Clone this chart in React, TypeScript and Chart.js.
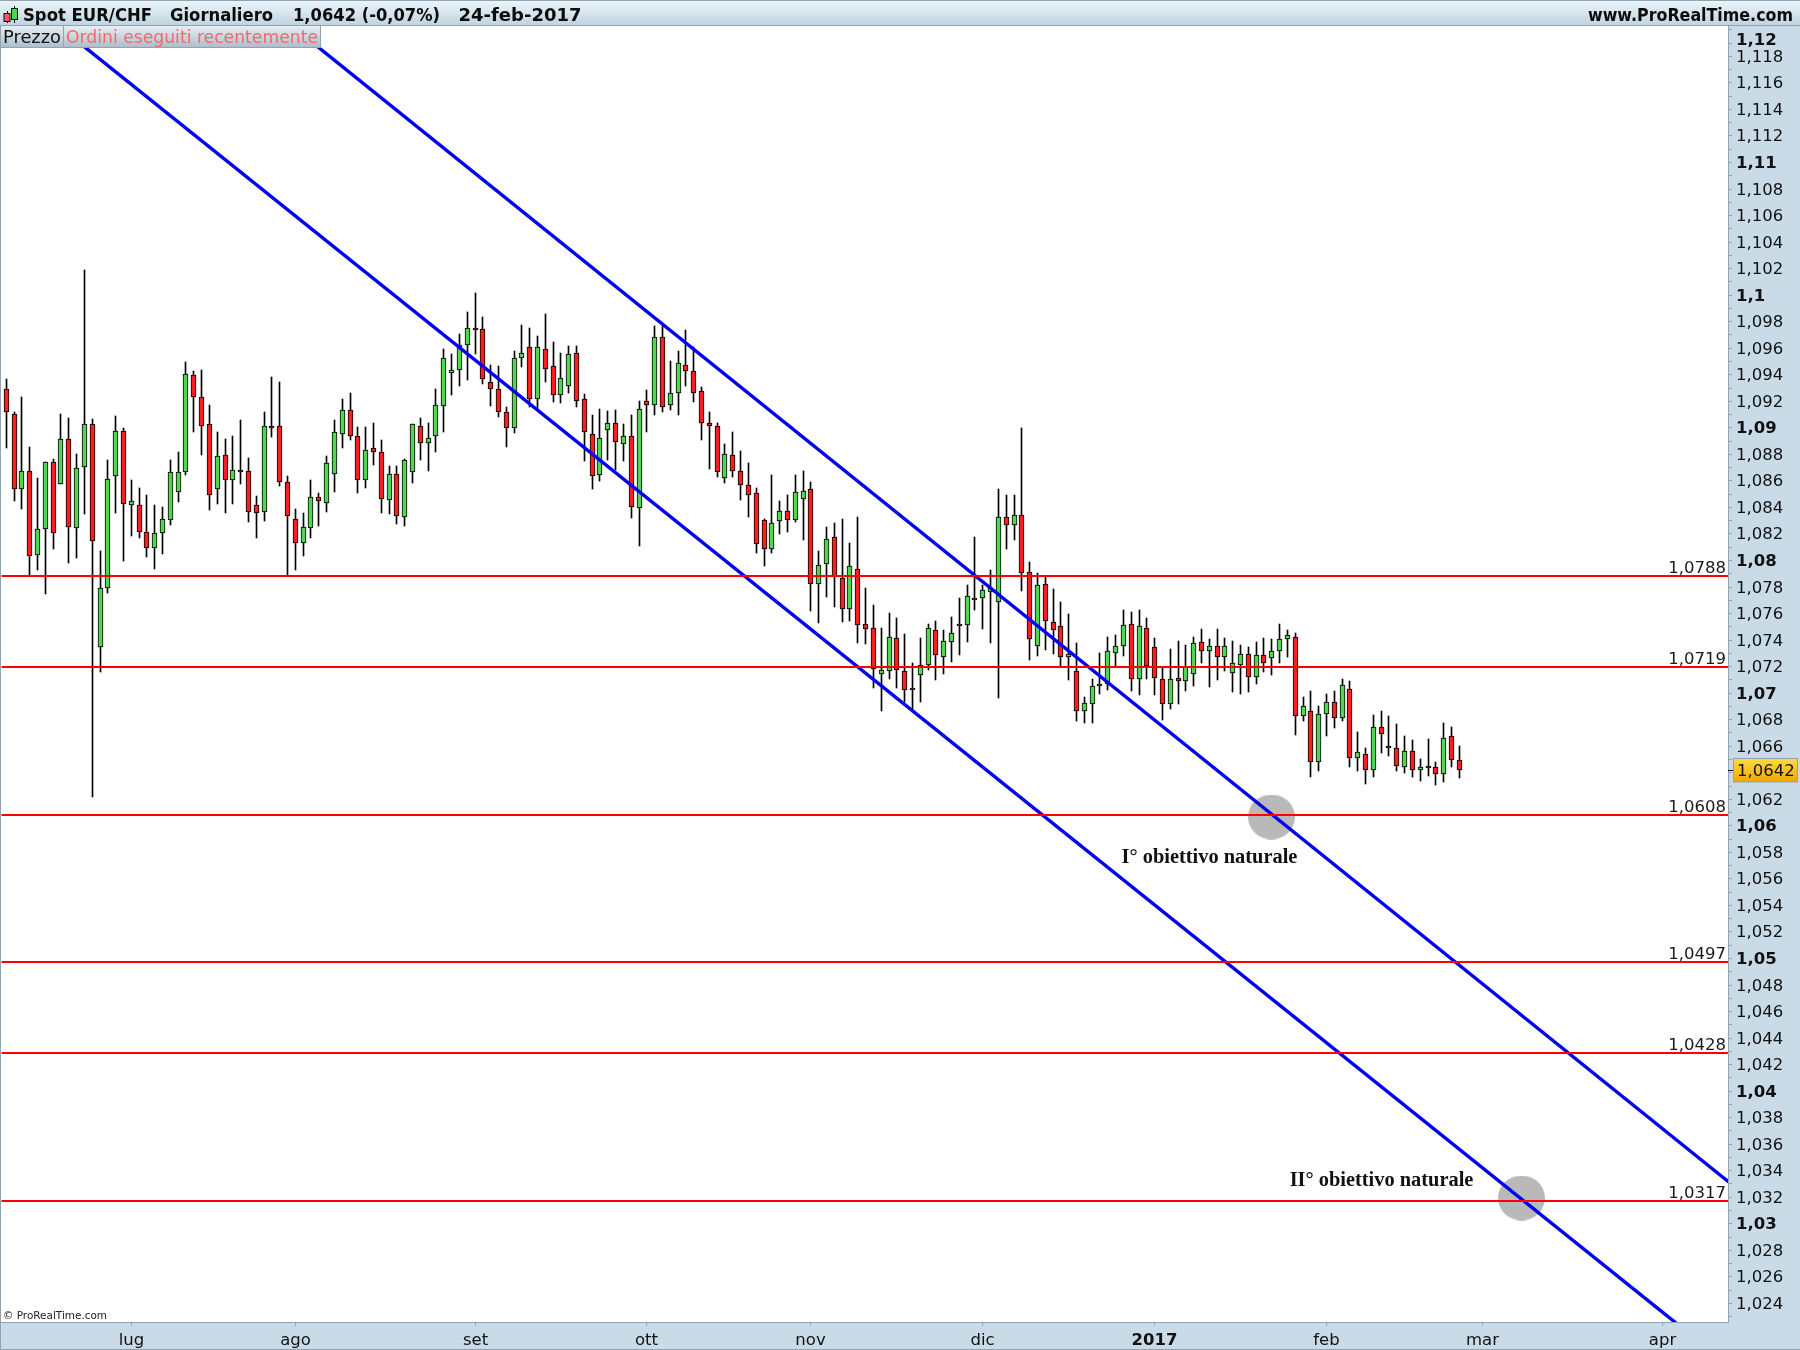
import React, { useEffect, useRef } from "react";
import { Chart, registerables } from "chart.js";

Chart.register(...registerables);

const opens = [
1.09288,1.09098,1.08532,1.08667,1.08035,1.08230,1.08735,1.08569,1.08910,1.08238,
1.08698,1.09024,1.07342,1.07786,1.08630,1.08971,1.08413,1.08413,1.08214,1.08088,
1.08201,1.08299,1.08516,1.08661,1.09391,1.09227,1.09024,1.08532,1.08788,1.08601,
1.08675,1.08667,1.08413,1.08360,1.09008,1.09008,1.08585,1.08307,1.08125,1.08238,
1.08471,1.08427,1.08646,1.08947,1.09128,1.08932,1.08601,1.08842,1.08812,1.08450,
1.08646,1.08322,1.08661,1.09008,1.08880,1.08932,1.09159,1.09407,1.09430,1.09618,
1.09747,1.09739,1.09340,1.09287,1.09113,1.08993,1.09520,1.09603,1.09211,1.09588,
1.09460,1.09242,1.09309,1.09558,1.09211,1.08947,1.08638,1.08978,1.09030,1.08872,
1.08932,1.08390,1.09196,1.09166,1.09678,1.09166,1.09256,1.09467,1.09422,1.09271,
1.09030,1.09007,1.08615,1.08789,1.08668,1.08563,1.08502,1.08299,1.08080,1.08291,
1.08367,1.08299,1.08457,1.08532,1.07816,1.07967,1.08171,1.07861,1.07628,1.07929,
1.07515,1.07485,1.07138,1.07160,1.07409,1.07160,1.07025,1.07130,1.07206,1.07469,
1.07266,1.07379,1.07515,1.07507,1.07711,1.07711,1.07756,1.07680,1.08321,1.08261,
1.08336,1.07907,1.07349,1.07816,1.07530,1.07500,1.07266,1.07160,1.06859,1.06911,
1.07047,1.07062,1.07296,1.07349,1.07515,1.07100,1.07484,1.07341,1.07100,1.06911,
1.07107,1.07085,1.07138,1.07379,1.07311,1.07349,1.07266,1.07145,1.07205,1.07288,
1.07115,1.07281,1.07258,1.07311,1.07401,1.07417,1.06821,1.06859,1.06475,1.06836,
1.06927,1.06806,1.07025,1.06505,1.06535,1.06414,1.06738,1.06588,1.06580,1.06437,
1.06558,1.06414,1.06439,1.06437,1.06384,1.06671,1.06490];

const highs = [
1.09365,1.09116,1.09227,1.08852,1.08619,1.08735,1.08759,1.09100,1.09071,1.08799,
1.10184,1.09063,1.08066,1.08754,1.09084,1.08992,1.08603,1.08542,1.08489,1.08415,
1.08400,1.08754,1.08815,1.09492,1.09423,1.09431,1.09169,1.08965,1.08913,1.08934,
1.09053,1.08770,1.08482,1.09116,1.09378,1.09341,1.08632,1.08384,1.08355,1.08603,
1.08505,1.08782,1.09056,1.09214,1.09259,1.09003,1.09003,1.09033,1.08905,1.08709,
1.08709,1.08759,1.09023,1.09071,1.09033,1.09289,1.09591,1.09553,1.09704,1.09870,
1.10013,1.09832,1.09470,1.09463,1.09154,1.09576,1.09772,1.09749,1.09689,1.09855,
1.09644,1.09561,1.09613,1.09613,1.09249,1.09093,1.09136,1.09123,1.09131,1.09025,
1.09093,1.09199,1.09281,1.09764,1.09764,1.09497,1.09573,1.09734,1.09603,1.09301,
1.09113,1.09030,1.08872,1.08962,1.08819,1.08728,1.08542,1.08306,1.08641,1.08442,
1.08487,1.08641,1.08671,1.08585,1.08065,1.08246,1.08276,1.08306,1.08125,1.08321,
1.07786,1.07658,1.07485,1.07598,1.07560,1.07439,1.07221,1.07409,1.07517,1.07537,
1.07469,1.07567,1.07711,1.07809,1.08170,1.07811,1.07924,1.08532,1.08487,1.08487,
1.08992,1.07982,1.07899,1.07874,1.07778,1.07680,1.07590,1.07371,1.06964,1.07100,
1.07296,1.07417,1.07432,1.07620,1.07605,1.07620,1.07560,1.07409,1.07183,1.07326,
1.07386,1.07356,1.07417,1.07477,1.07401,1.07477,1.07409,1.07386,1.07356,1.07341,
1.07379,1.07409,1.07401,1.07515,1.07469,1.07447,1.06965,1.07010,1.06897,1.06987,
1.07010,1.07100,1.07085,1.06701,1.06580,1.06829,1.06859,1.06821,1.06761,1.06671,
1.06640,1.06497,1.06648,1.06475,1.06769,1.06738,1.06595];

const lows = [
1.08847,1.08447,1.08386,1.07887,1.07926,1.07747,1.08085,1.08569,1.07979,1.08016,
1.08349,1.06216,1.07157,1.07754,1.08357,1.07995,1.08183,1.08167,1.08024,1.07934,
1.08048,1.08267,1.08439,1.08643,1.08968,1.08794,1.08379,1.08423,1.08357,1.08423,
1.08574,1.08289,1.08167,1.08296,1.08928,1.08561,1.07887,1.07926,1.08032,1.08167,
1.08259,1.08364,1.08515,1.08847,1.08907,1.08508,1.08545,1.08719,1.08357,1.08349,
1.08274,1.08259,1.08583,1.08756,1.08674,1.08817,1.08968,1.09247,1.09314,1.09360,
1.09556,1.09329,1.09164,1.09081,1.08855,1.08960,1.09458,1.09156,1.09136,1.09345,
1.09194,1.09186,1.09257,1.09156,1.08749,1.08538,1.08598,1.08754,1.08679,1.08749,
1.08319,1.08108,1.08967,1.09095,1.09118,1.09133,1.09095,1.09314,1.09193,1.08907,
1.08688,1.08628,1.08583,1.08628,1.08455,1.08326,1.08055,1.07957,1.08055,1.08198,
1.08213,1.08289,1.08153,1.07618,1.07527,1.07723,1.07648,1.07535,1.07542,1.07376,
1.07369,1.07037,1.06864,1.07105,1.07037,1.06932,1.06874,1.06932,1.07173,1.07098,
1.07143,1.07233,1.07286,1.07384,1.07625,1.07482,1.07376,1.06962,1.08085,1.08153,
1.07766,1.07248,1.07278,1.07324,1.07293,1.07198,1.07097,1.06788,1.06773,1.06773,
1.06992,1.07022,1.07190,1.07278,1.07014,1.06984,1.07105,1.06984,1.06796,1.06879,
1.06916,1.07014,1.07052,1.07226,1.07045,1.07097,1.07165,1.07007,1.06992,1.07007,
1.07067,1.07158,1.07135,1.07226,1.07266,1.06683,1.06784,1.06366,1.06412,1.06676,
1.06736,1.06789,1.06442,1.06412,1.06314,1.06367,1.06547,1.06525,1.06412,1.06397,
1.06367,1.06336,1.06374,1.06306,1.06329,1.06442,1.06359];

const closes = [
1.09113,1.08532,1.08667,1.08027,1.08236,1.08735,1.08201,1.08910,1.08246,1.08690,
1.09024,1.08140,1.07786,1.08608,1.08971,1.08421,1.08442,1.08214,1.08088,1.08201,
1.08307,1.08661,1.08661,1.09399,1.09227,1.09008,1.08487,1.08780,1.08601,1.08675,
1.08661,1.08360,1.08352,1.09008,1.08992,1.08585,1.08328,1.08125,1.08246,1.08471,
1.08442,1.08729,1.08963,1.09128,1.08935,1.08601,1.08827,1.08812,1.08457,1.08646,
1.08329,1.08752,1.09023,1.08880,1.08917,1.09166,1.09520,1.09430,1.09618,1.09747,
1.09737,1.09362,1.09287,1.09113,1.08993,1.09520,1.09558,1.09211,1.09603,1.09438,
1.09242,1.09370,1.09551,1.09196,1.08963,1.08631,1.08917,1.09030,1.08887,1.08932,
1.08397,1.09136,1.09166,1.09678,1.09151,1.09256,1.09482,1.09422,1.09256,1.09030,
1.09007,1.08661,1.08796,1.08668,1.08563,1.08487,1.08118,1.08080,1.08276,1.08367,
1.08299,1.08510,1.08517,1.07816,1.07959,1.08155,1.07877,1.07628,1.07952,1.07507,
1.07477,1.07175,1.07168,1.07417,1.07168,1.07017,1.07017,1.07206,1.07485,1.07281,
1.07387,1.07447,1.07500,1.07726,1.07696,1.07771,1.07786,1.08321,1.08261,1.08336,
1.07899,1.07401,1.07809,1.07537,1.07469,1.07266,1.07288,1.06859,1.06919,1.07047,
1.07055,1.07311,1.07349,1.07507,1.07100,1.07500,1.07198,1.07107,1.06911,1.07100,
1.07085,1.07190,1.07371,1.07311,1.07349,1.07266,1.07349,1.07221,1.07288,1.07115,
1.07281,1.07221,1.07311,1.07401,1.07432,1.06821,1.06897,1.06475,1.06836,1.06927,
1.06806,1.07055,1.06505,1.06550,1.06414,1.06738,1.06686,1.06580,1.06444,1.06558,
1.06414,1.06437,1.06434,1.06384,1.06655,1.06490,1.06414];

const monthTicks = [16, 37, 60, 82, 103, 125, 147, 169, 189, 212];
const monthLabels = ["lug", "ago", "set", "ott", "nov", "dic", "2017", "feb", "mar", "apr"];

const levels = [1.0788, 1.0719, 1.0608, 1.0497, 1.0428, 1.0317];

const upperChannelX = [35, 221];
const upperChannelY = [1.12099, 1.03288];
const lowerChannelX = [6, 214];
const lowerChannelY = [1.12058, 1.02233];

const targetX = [161.9, 194.0];
const targetY = [1.06062, 1.03192];
const targetNotes = ["I° obiettivo naturale", "II° obiettivo naturale"];
const notePositionX = [154.06, 176.1];
const notePositionY = [1.0575, 1.03321];

const lastPrice = 1.0642;
const titleParts = ["Spot EUR/CHF", "Giornaliero", "1,0642 (-0,07%)", "24-feb-2017"];
const siteName = "www.ProRealTime.com";
const tabs = ["Prezzo", "Ordini eseguiti recentemente"];
const copyright = "© ProRealTime.com";

const xMin = -0.68;
const xMax = 220.4;
const yMin = 1.02256;
const yMax = 1.12025;

const comma = (v: number) => String(v).replace(".", ",");
const SANS = "'DejaVu Sans'";
const PANEL = "#c9dbe6";
const EDGE = "#8fa3b0";
const GREEN = "#52d652";
const RED = "#fa1e1e";

const chrome = {
  id: "chrome",
  beforeDraw(chart: any) {
    const { ctx, width, height, chartArea: a } = chart;
    ctx.save();
    ctx.fillStyle = "#ffffff";
    ctx.fillRect(0, 0, width, height);
    ctx.fillStyle = PANEL;
    ctx.fillRect(a.right, a.top, width - a.right, height - a.top);
    ctx.fillRect(0, a.bottom, width, height - a.bottom);
    ctx.fillStyle = EDGE;
    ctx.fillRect(0, 26, 1, height - 26);
    ctx.fillRect(0, height - 1, width, 1);
    ctx.restore();
  },
  afterDatasetsDraw(chart: any) {
    const { ctx, scales, chartArea: a } = chart;
    ctx.save();
    ctx.fillStyle = "#1a1a1a";
    ctx.font = `16.5px ${SANS}`;
    ctx.textAlign = "right";
    ctx.textBaseline = "alphabetic";
    levels.forEach((l) => {
      ctx.fillText(comma(l), a.right - 2, scales.y.getPixelForValue(l) - 3.5);
    });
    ctx.font = "bold 20.4px 'Liberation Serif'";
    ctx.fillStyle = "#111111";
    ctx.textAlign = "center";
    ctx.textBaseline = "middle";
    targetNotes.forEach((t, i) => {
      ctx.fillText(t, scales.x.getPixelForValue(notePositionX[i]), scales.y.getPixelForValue(notePositionY[i]));
    });
    ctx.restore();
  },
  afterDraw(chart: any) {
    const { ctx, width, scales, chartArea: a } = chart;
    ctx.save();
    const head = ctx.createLinearGradient(0, 0, 0, 26);
    head.addColorStop(0, "#edf7fc");
    head.addColorStop(1, "#bfd2de");
    ctx.fillStyle = head;
    ctx.fillRect(0, 0, width, 26);
    ctx.fillStyle = EDGE;
    ctx.fillRect(0, 0, width, 1);
    ctx.fillRect(0, 25, width, 1);

    ctx.fillStyle = "#111111";
    ctx.fillRect(7, 11, 1, 12);
    ctx.fillRect(14, 6, 1, 17);
    ctx.fillRect(3.5, 13, 7, 9);
    ctx.fillRect(11, 8, 7, 12);
    ctx.fillStyle = "#f25a5a";
    ctx.fillRect(4.5, 14, 5, 7);
    ctx.fillStyle = "#49d849";
    ctx.fillRect(12, 9, 5, 10);

    ctx.fillStyle = "#0c0c0c";
    ctx.textBaseline = "middle";
    ctx.textAlign = "left";
    ctx.font = `bold 18px ${SANS}`;
    ctx.fillText(titleParts[0], 23, 16, 129);
    ctx.fillText(titleParts[1], 170, 16, 103);
    ctx.fillText(titleParts[2], 293, 16, 147);
    ctx.fillText(titleParts[3], 458.5, 16, 123);
    ctx.textAlign = "right";
    ctx.fillText(siteName, 1793, 16, 205);

    const tab = ctx.createLinearGradient(0, 26, 0, 47);
    tab.addColorStop(0, "#e6eef3");
    tab.addColorStop(1, "#adbfca");
    ctx.fillStyle = tab;
    ctx.fillRect(1, 26, 319, 21);
    ctx.fillStyle = EDGE;
    ctx.fillRect(63, 26, 1, 21);
    ctx.fillRect(320, 26, 1, 21);
    ctx.fillRect(1, 47, 320, 1);
    ctx.textAlign = "left";
    ctx.font = `18px ${SANS}`;
    ctx.fillStyle = "#111111";
    ctx.fillText(tabs[0], 3, 38.5, 58);
    ctx.fillStyle = "#f2686e";
    ctx.fillText(tabs[1], 66, 38.5, 252);

    ctx.font = `11px ${SANS}`;
    ctx.fillStyle = "#222222";
    ctx.fillText(copyright, 3, a.bottom - 6, 104);

    const py = scales.y.getPixelForValue(lastPrice);
    ctx.fillStyle = "#000000";
    ctx.fillRect(a.right, Math.round(py), 6, 1);
    const tag = ctx.createLinearGradient(0, py - 12, 0, py + 12);
    tag.addColorStop(0, "#ffdc45");
    tag.addColorStop(1, "#efa800");
    ctx.fillStyle = tag;
    ctx.fillRect(1733.5, py - 11.5, 64, 23.5);
    ctx.strokeStyle = EDGE;
    ctx.lineWidth = 1;
    ctx.strokeRect(1733.5, py - 11.5, 64, 23.5);
    ctx.fillStyle = "#111111";
    ctx.font = `16.5px ${SANS}`;
    ctx.fillText(comma(lastPrice), 1737, py + 1.5);
    ctx.restore();
  },
};

function ellipseMark() {
  const c = document.createElement("canvas");
  c.width = 47;
  c.height = 45;
  const g = c.getContext("2d")!;
  g.fillStyle = "#b9b9b9";
  g.beginPath();
  g.ellipse(23.5, 22.5, 23.5, 22.5, 0, 0, Math.PI * 2);
  g.fill();
  return c;
}

export default function App() {
  const ref = useRef<HTMLCanvasElement>(null);
  useEffect(() => {
    const idx = opens.map((_, i) => i);
    const line = (xs: number[], ys: number[], color: string, width: number, order: number) => ({
      type: "line",
      data: xs.map((x, i) => ({ x, y: ys[i] })),
      borderColor: color,
      borderWidth: width,
      pointRadius: 0,
      tension: 0,
      clip: 0,
      order,
    });
    const chart = new Chart(ref.current!, {
      type: "bar",
      data: {
        datasets: [
          ...levels.map((l) => line([xMin, xMax], [l, l], "#ff0000", 2, 1)),
          line(upperChannelX, upperChannelY, "#0000f0", 3.4, 2),
          line(lowerChannelX, lowerChannelY, "#0000f0", 3.4, 2),
          {
            type: "bar",
            data: idx.map((i) => ({ x: i, y: [opens[i], closes[i]] })),
            backgroundColor: idx.map((i) => (closes[i] >= opens[i] ? GREEN : RED)),
            borderColor: "#000000",
            borderWidth: 1,
            borderSkipped: false,
            barThickness: 5,
            minBarLength: 2,
            grouped: false,
            order: 3,
          },
          {
            type: "bar",
            data: idx.map((i) => ({ x: i, y: [lows[i], highs[i]] })),
            backgroundColor: "#000000",
            borderWidth: 0,
            barThickness: 1,
            grouped: false,
            order: 4,
          },
          {
            type: "line",
            data: targetX.map((x, i) => ({ x, y: targetY[i] })),
            showLine: false,
            pointStyle: ellipseMark(),
            pointRadius: 23,
            order: 5,
          },
        ] as any,
      },
      options: {
        animation: false,
        responsive: false,
        devicePixelRatio: 1,
        layout: { autoPadding: false, padding: { top: 26, left: 1, right: 0, bottom: 0 } },
        plugins: { legend: { display: false }, tooltip: { enabled: false }, title: { display: false } },
        scales: {
          x: {
            type: "linear",
            min: xMin,
            max: xMax,
            offset: false,
            afterFit: (s: any) => {
              s.height = 28;
              s.paddingLeft = 0;
              s.paddingRight = 0;
            },
            afterBuildTicks: (s: any) => {
              s.ticks = monthTicks.map((value) => ({ value }));
              const base = Object.getPrototypeOf(s).getPixelForValue;
              s.getPixelForValue = (v: number) => Math.floor(base.call(s, v)) + 0.5;
            },
            grid: { offset: false, drawOnChartArea: false, drawTicks: true, tickLength: 4, tickColor: EDGE },
            border: { color: EDGE },
            ticks: {
              autoSkip: false,
              maxRotation: 0,
              padding: 5,
              color: "#111111",
              font: (c: any) => ({
                family: SANS,
                size: 16.5,
                weight: c.tick && c.tick.value === 147 ? "bold" : "normal",
              }),
              callback: (v: any) => monthLabels[monthTicks.indexOf(v)],
            },
          },
          y: {
            type: "linear",
            position: "right",
            min: yMin,
            max: yMax,
            afterFit: (s: any) => {
              s.width = 72;
              s.paddingTop = 0;
              s.paddingBottom = 0;
            },
            afterBuildTicks: (s: any) => {
              const base = Object.getPrototypeOf(s).getPixelForValue;
              s.getPixelForValue = (v: number) => Math.round(base.call(s, v));
            },
            grid: { drawOnChartArea: false, drawTicks: true, tickLength: 4, tickColor: EDGE },
            border: { color: EDGE },
            ticks: {
              stepSize: 0.001,
              includeBounds: false,
              autoSkip: false,
              padding: 4,
              labelOffset: 1.5,
              color: "#111111",
              font: (c: any) => {
                const m = c.tick ? Math.round(c.tick.value * 1000) : 1;
                return { family: SANS, size: 16.5, weight: m % 10 === 0 ? "bold" : "normal" };
              },
              callback: (v: any) => {
                const m = Math.round(Number(v) * 1000);
                if (m % 2 !== 0) return "";
                const text = comma(m / 1000);
                return m === 1120 ? ["", text] : text;
              },
            },
          },
        },
      },
      plugins: [chrome],
    } as any);
    return () => chart.destroy();
  }, []);
  return (
    <div style={{ position: "fixed", left: 0, top: 0, width: 1800, height: 1350 }}>
      <canvas ref={ref} width={1800} height={1350} style={{ display: "block" }} />
    </div>
  );
}
